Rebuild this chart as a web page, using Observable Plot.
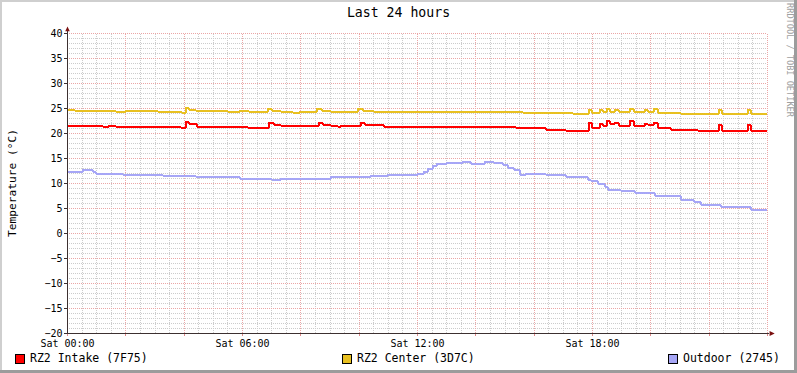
<!DOCTYPE html>
<html><head><meta charset="utf-8">
<script src="https://cdn.jsdelivr.net/npm/d3@7"></script>
<script src="https://cdn.jsdelivr.net/npm/@observablehq/plot@0.6"></script>
<style>
html,body{margin:0;padding:0;background:#fff;}
#wrap{position:relative;width:797px;height:373px;overflow:hidden;background:#fff;font-family:"DejaVu Sans Mono",monospace;color:#000;}
#wrap svg.plot{position:absolute;left:0;top:0;}
.b{position:absolute;}
#title{position:absolute;left:0;width:797px;top:5px;text-align:center;font-size:13.2px;line-height:16px;}
#ylab{position:absolute;left:12px;top:183px;transform:translate(-50%,-50%) rotate(-90deg);font-size:11.2px;white-space:nowrap;}
#wm{position:absolute;left:790px;top:60px;transform:translate(-50%,-50%) rotate(90deg);font-size:8.6px;white-space:nowrap;color:#a0a0a0;}
.leg{position:absolute;top:351px;font-size:11.5px;line-height:14px;white-space:nowrap;}
.sw{position:absolute;top:354px;width:8px;height:8px;border:1px solid #000;}
</style></head><body>
<div id="wrap">
  <div class="b" style="left:0;top:0;width:797px;height:2px;background:#cfcfcf"></div>
  <div class="b" style="left:0;top:0;width:2px;height:373px;background:#cfcfcf"></div>
  <div class="b" style="left:0;top:370px;width:797px;height:3px;background:#9c9c9c"></div>
  <div class="b" style="left:794px;top:0;width:3px;height:373px;background:#9c9c9c"></div>
  <div id="title">Last 24 hours</div>
  <div id="ylab">Temperature (°C)</div>
  <div id="wm">RRDTOOL / TOBI OETIKER</div>
</div>
<script>
// ---- data (hours since Sat 00:00, °C), step-wise as drawn by RRDtool ----
const seriesNames = ["RZ2 Intake (7F75)", "RZ2 Center (3D7C)", "Outdoor (2745)"];
const seriesColors = ["#ff0000", "#e8c020", "#a6a6f6"];

const intakeTimes  = [0,1.20,1.41,1.65,3.87,4.05,4.15,4.42,6.17,6.89,7.06,7.30,8.61,8.74,9.02,9.26,9.36,10.05,10.18,10.83,15.36,15.84,16.39,17.07,17.86,17.96,18.24,18.34,18.48,18.58,18.75,18.89,19.27,19.41,19.78,19.89,20.09,20.23,20.68,21.60,22.32,22.42,22.83,23.31,23.42,23.96];
const intakeValues = [21.6,21.4,21.6,21.4,21.2,22.4,21.9,21.5,21.3,22.3,21.8,21.6,22.3,21.8,21.6,21.4,21.6,22.3,21.7,21.5,21.3,21.1,20.9,20.7,22.3,21.3,22.1,21.6,22.5,21.9,22.3,21.6,22.5,21.6,22.1,21.8,22.3,21.3,20.9,20.6,21.7,20.7,20.5,21.8,20.5,20.5];

const centerTimes  = [0,0.25,1.0,1.65,2.0,3.1,3.5,3.9,4.05,4.15,4.4,5.5,5.9,6.2,6.85,7.0,7.3,7.7,7.95,8.55,8.7,9.0,9.95,10.1,10.5,11.3,11.6,13.5,15.6,16.5,17.3,17.86,17.96,18.24,18.34,18.48,18.58,18.75,18.89,19.27,19.41,19.78,19.89,20.09,20.23,21.0,21.6,22.32,22.42,22.6,23.31,23.42,23.96];
const centerValues = [24.9,24.7,24.6,24.5,24.6,24.5,24.4,24.3,25.3,24.9,24.6,24.5,24.6,24.4,25.1,24.7,24.5,24.2,24.5,25.0,24.7,24.5,25.0,24.7,24.5,24.4,24.5,24.4,24.3,24.2,24.1,24.9,24.3,24.9,24.4,25.0,24.5,24.9,24.4,25.0,24.4,24.9,24.5,25.0,24.2,24.1,24.0,24.8,24.1,23.9,24.8,23.9,23.9];

const outdoorTimes  = [0,0.51,0.86,0.96,1.89,3.26,4.39,5.9,6.99,7.3,9.02,10.39,10.97,12.0,12.2,12.34,12.51,12.65,12.99,13.54,13.82,14.3,14.6,14.91,15.09,15.29,15.5,15.7,16.39,17.07,17.83,17.93,18.17,18.4,18.51,18.96,19.44,20.13,21.02,21.46,21.70,22.39,23.42,23.96];
const outdoorValues = [12.4,12.8,12.4,12.1,11.8,11.6,11.3,11.1,10.9,11.1,11.3,11.5,11.9,12.1,12.5,13.0,13.6,14.0,14.3,14.5,14.1,14.4,14.2,13.7,13.3,12.8,11.9,12.1,11.8,11.3,10.9,10.7,10.0,9.4,8.9,8.7,8.3,7.6,6.9,6.5,5.8,5.4,4.8,4.8];

const xLabelTicks = [0, 6, 12, 18];
const xLabelDay = "Sat";

// ---- build table ----
const seriesTimes = [intakeTimes, centerTimes, outdoorTimes];
const seriesValues = [intakeValues, centerValues, outdoorValues];
const rows = seriesNames.flatMap((name, k) =>
  seriesTimes[k].map((t, i) => ({series: name, t, v: seriesValues[k][i]})));

const minorY = d3.range(-20, 41, 1).filter(v => v % 5 !== 0);
const majorY = d3.range(-20, 41, 5);
const minorX = d3.range(0, 24.01, 0.5).filter(h => h % 2 !== 0);
const majorX = d3.range(0, 24.01, 2);

const triUp = {draw(ctx, size){ const r = Math.sqrt(size/Math.PI); ctx.moveTo(0,-r); ctx.lineTo(r*0.75, r*0.6); ctx.lineTo(-r*0.75, r*0.6); ctx.closePath(); }};
const triRight = {draw(ctx, size){ const r = Math.sqrt(size/Math.PI); ctx.moveTo(r,0); ctx.lineTo(-r*0.6, -r*0.75); ctx.lineTo(-r*0.6, r*0.75); ctx.closePath(); }};

const axisColor = "#3c3030";
const arrowColor = "#7a1010";

const chart = Plot.plot({
  width: 797, height: 373,
  marginLeft: 67, marginRight: 30, marginTop: 33, marginBottom: 40,
  style: {fontFamily: "DejaVu Sans Mono, monospace", fontSize: "10px", background: "transparent", color: "#000"},
  x: {domain: [0, 24], axis: null, round: true},
  y: {domain: [-20, 40], axis: null, round: true},
  color: {domain: seriesNames, range: seriesColors},
  marks: [
    Plot.ruleY(minorY, {stroke: "#cccccc", strokeDasharray: "1,1", x1: 0, x2: 24}),
    Plot.ruleX(minorX, {stroke: "#cccccc", strokeDasharray: "1,1", y1: -20, y2: 40}),
    Plot.ruleY(majorY, {stroke: "#eba6a6", strokeDasharray: "1,1", x1: 0, x2: 24}),
    Plot.ruleX(majorX, {stroke: "#eba6a6", strokeDasharray: "1,1", y1: -20, y2: 40}),
    Plot.axisY(majorY, {tickSize: 3, tickPadding: 2, stroke: axisColor, fontSize: 10, label: null}),
    Plot.axisX(majorX, {tickSize: 3, tickPadding: 0, stroke: "#e08a8a", tickFormat: () => "", label: null}),
    Plot.axisX(xLabelTicks, {tickSize: 0, tickPadding: 6, fontSize: 10, label: null,
      tickFormat: h => `${xLabelDay} ${String(h).padStart(2, "0")}:00`}),
    Plot.line(rows, {x: "t", y: "v", z: "series", stroke: "series", curve: "step-after", strokeWidth: 2, shapeRendering: "crispEdges"}),
    Plot.ruleX([0], {y1: -20, y2: 40.6, stroke: axisColor}),
    Plot.ruleY([-20], {x1: 0, x2: 24.08, stroke: axisColor}),
    Plot.dot([{x: 0, y: 40.8}], {x: "x", y: "y", symbol: triUp, r: 3, fill: arrowColor, stroke: null}),
    Plot.dot([{x: 24.12, y: -20}], {x: "x", y: "y", symbol: triRight, r: 3.2, fill: arrowColor, stroke: null})
  ]
});
chart.classList.add("plot");
const wrap = document.getElementById("wrap");
wrap.appendChild(chart);

// legend
const legendX = [[15, 30], [342, 357], [668, 683]];
seriesNames.forEach((name, k) => {
  const sw = document.createElement("div");
  sw.className = "sw";
  sw.style.left = legendX[k][0] + "px";
  sw.style.background = seriesColors[k];
  wrap.appendChild(sw);
  const t = document.createElement("div");
  t.className = "leg";
  t.style.left = legendX[k][1] + "px";
  t.textContent = name;
  wrap.appendChild(t);
});
</script>
</body></html>
